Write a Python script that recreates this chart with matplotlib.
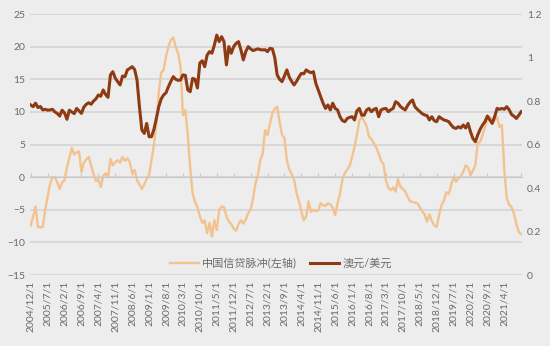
import matplotlib
matplotlib.use("Agg")
import matplotlib.pyplot as plt

plt.rcParams['font.family'] = ['Lato', 'Noto Sans CJK SC', 'DejaVu Sans']

# monthly data, 2004/12 .. 2021/11
credit_impulse = [
    -7.4, -6.0, -4.5, -7.6, -7.7, -7.6, -5.0, -3.0, -1.0, 0.0,
    0.0, -0.8, -1.8, -0.8, -0.5, 1.5, 3.0, 4.5, 3.5, 3.8,
    3.9, 0.8, 2.2, 2.7, 3.1, 1.8, 0.5, -0.6, -0.3, -1.5,
    0.2, 0.6, 0.0, 2.8, 1.8, 2.3, 2.6, 2.2, 3.1, 2.5,
    2.9, 2.3, 0.6, 1.1, -0.5, -1.1, -1.8, -1.1, -0.3, 0.4,
    2.6, 5.0, 8.2, 13.0, 16.0, 16.4, 18.5, 20.0, 21.0, 21.4,
    20.0, 19.0, 17.0, 9.5, 10.3, 6.5, 1.5, -2.5, -3.8, -4.6,
    -6.0, -7.0, -6.6, -8.6, -7.0, -9.1, -6.6, -8.1, -5.0, -4.5,
    -4.6, -6.0, -6.8, -7.2, -7.9, -8.2, -7.2, -6.6, -7.1, -6.5,
    -5.5, -5.0, -3.3, -1.0, 0.3, 2.6, 3.6, 7.2, 6.4, 8.2,
    9.8, 10.5, 10.8, 8.5, 6.5, 6.0, 2.6, 1.2, 0.5, -0.4,
    -2.4, -3.7, -5.2, -6.6, -6.0, -3.7, -5.3, -5.0, -5.2, -5.1,
    -4.0, -4.3, -4.4, -4.0, -4.2, -4.7, -5.8, -4.0, -2.5, -0.4,
    0.6, 1.2, 1.7, 3.1, 4.6, 6.5, 8.7, 9.2, 8.6, 7.8,
    6.2, 5.8, 5.2, 4.6, 3.6, 2.5, 2.0, -0.5, -1.6, -2.0,
    -1.6, -2.2, -0.3, -1.5, -1.8, -2.2, -3.0, -3.7, -3.8, -3.9,
    -4.0, -4.6, -5.2, -5.7, -6.8, -5.7, -6.7, -7.4, -7.6, -5.8,
    -4.3, -3.6, -2.3, -2.6, -1.2, 0.0, -0.7, -0.2, 0.1, 0.8,
    1.8, 1.5, 0.3, 1.0, 1.8, 5.2, 5.4, 6.5, 7.6, 9.0,
    9.2, 8.9, 8.7, 9.2, 7.7, 8.0, 1.1, -3.2, -4.2, -4.6,
    -5.6, -7.2, -8.4, -8.7,
]

audusd = [
    0.782, 0.774, 0.790, 0.770, 0.775, 0.759, 0.762, 0.758, 0.759, 0.762,
    0.750, 0.743, 0.731, 0.758, 0.745, 0.716, 0.758, 0.750, 0.742, 0.766,
    0.755, 0.743, 0.772, 0.785, 0.792, 0.785, 0.800, 0.810, 0.828, 0.822,
    0.851, 0.830, 0.817, 0.920, 0.935, 0.905, 0.889, 0.874, 0.915, 0.912,
    0.943, 0.950, 0.958, 0.945, 0.897, 0.774, 0.667, 0.651, 0.697, 0.636,
    0.636, 0.670, 0.720, 0.774, 0.810, 0.828, 0.838, 0.866, 0.890, 0.912,
    0.900, 0.895, 0.897, 0.920, 0.918, 0.851, 0.843, 0.904, 0.900, 0.860,
    0.975, 0.985, 0.958, 1.011, 1.027, 1.020, 1.057, 1.103, 1.073, 1.096,
    1.073, 0.966, 1.050, 1.020, 1.050, 1.065, 1.073, 1.035, 0.989, 1.027,
    1.050, 1.040, 1.032, 1.036, 1.040, 1.036, 1.035, 1.036, 1.027, 1.042,
    1.040, 1.000, 0.920, 0.900, 0.889, 0.915, 0.943, 0.910, 0.890, 0.874,
    0.890, 0.910, 0.927, 0.925, 0.943, 0.935, 0.930, 0.935, 0.881, 0.851,
    0.820, 0.790, 0.766, 0.782, 0.759, 0.790, 0.766, 0.759, 0.728, 0.710,
    0.705, 0.720, 0.725, 0.728, 0.713, 0.755, 0.766, 0.735, 0.735, 0.759,
    0.766, 0.751, 0.762, 0.766, 0.728, 0.759, 0.764, 0.766, 0.751, 0.760,
    0.766, 0.797, 0.790, 0.775, 0.766, 0.759, 0.780, 0.795, 0.805, 0.774,
    0.762, 0.752, 0.742, 0.736, 0.733, 0.713, 0.728, 0.710, 0.705, 0.728,
    0.720, 0.713, 0.710, 0.705, 0.690, 0.678, 0.674, 0.682, 0.676, 0.690,
    0.676, 0.697, 0.659, 0.628, 0.613, 0.644, 0.670, 0.690, 0.705, 0.731,
    0.713, 0.697, 0.728, 0.766, 0.762, 0.766, 0.762, 0.774, 0.760, 0.738,
    0.730, 0.720, 0.735, 0.751,
]

tick_labels = [
    '2004/12/1', '2005/7/1', '2006/2/1', '2006/9/1', '2007/4/1', '2007/11/1',
    '2008/6/1', '2009/1/1', '2009/8/1', '2010/3/1', '2010/10/1', '2011/5/1',
    '2011/12/1', '2012/7/1', '2013/2/1', '2013/9/1', '2014/4/1', '2014/11/1',
    '2015/6/1', '2016/1/1', '2016/8/1', '2017/3/1', '2017/10/1', '2018/5/1',
    '2018/12/1', '2019/7/1', '2020/2/1', '2020/9/1', '2021/4/1',
]
tick_step = 7

bg = '#EDEDED'
orange = '#F2C28F'
brown = '#8E3A12'
txt = '#6B6B6B'

x = list(range(len(credit_impulse)))

fig = plt.figure(figsize=(5.5, 3.46), dpi=100, facecolor=bg)
ax = fig.add_axes([0.0545, 0.205, 0.8945, 0.7545], facecolor=bg)
ax2 = ax.twinx()

l1, = ax.plot(x, credit_impulse, color=orange, lw=1.7, label='中国信贷脉冲(左轴)')
l2, = ax2.plot(x, audusd, color=brown, lw=2.2, label='澳元/美元')

ax.set_ylim(-15, 25)
ax.set_yticks(range(-15, 26, 5))
ax.yaxis.grid(True, color='#D2D2D2', lw=1.1)
ax.set_axisbelow(True)
ax.set_xlim(-0.3, len(x) - 0.7)

ax2.set_ylim(0, 1.2)
ax2.set_yticks([0, 0.2, 0.4, 0.6, 0.8, 1.0, 1.2])
ax2.set_yticklabels(['0', '0.2', '0.4', '0.6', '0.8', '1', '1.2'])

for a in (ax, ax2):
    for s in a.spines.values():
        s.set_visible(False)
    a.tick_params(axis='y', length=0, labelsize=7.5, labelcolor=txt)

# category axis drawn on the zero line, labels at the bottom
ticks = [i * tick_step for i in range(len(tick_labels))]
ax.spines['bottom'].set_visible(True)
ax.spines['bottom'].set_position(('data', 0))
ax.spines['bottom'].set_color('#C8C8C8')
ax.set_xticks(ticks + [len(x) - 1])
ax.tick_params(axis='x', direction='in', length=3, color='#C8C8C8', labelbottom=False)

sec = ax.secondary_xaxis('bottom')
sec.set_xticks(ticks)
sec.set_xticklabels(tick_labels, rotation=90)
sec.tick_params(length=0, labelsize=7.5, labelcolor=txt, pad=4)
sec.spines['bottom'].set_visible(False)

ax.legend([l1, l2], [l1.get_label(), l2.get_label()], loc='center',
          bbox_to_anchor=(0.51, 0.045), ncol=2, frameon=False, fontsize=8,
          labelcolor=txt, handlelength=2.6, columnspacing=1.2, handletextpad=0.3)

fig.savefig('out.png', dpi=100, facecolor=bg)
